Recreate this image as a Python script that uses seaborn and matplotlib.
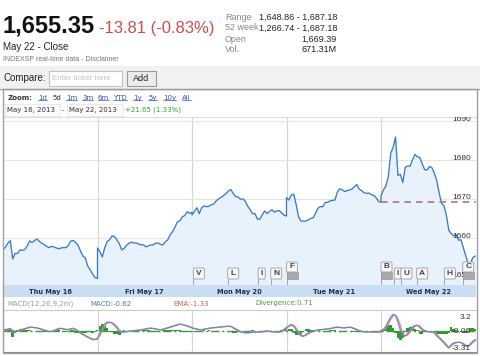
import numpy as np
import pandas as pd
import matplotlib
matplotlib.use("Agg")
import matplotlib.pyplot as plt
import seaborn as sns
from matplotlib.patches import Rectangle, FancyBboxPatch
from matplotlib.lines import Line2D
import matplotlib.transforms as mtransforms

# ---------------- data ----------------
day_labels = ["Thu May 16", "Fri May 17", "Mon May 20", "Tue May 21", "Wed May 22"]
minutes = list(range(0, 391, 10))          # one reading every 10 minutes per session

thu = [1656.9, 1657.6, 1658.6, 1659.3, 1654.6, 1656.0, 1656.0, 1656.9, 1656.8, 1657.0,
       1657.9, 1659.2, 1658.8, 1659.3, 1659.7, 1659.1, 1658.6, 1658.3, 1657.8, 1657.5,
       1657.8, 1657.7, 1657.4, 1657.2, 1657.4, 1657.5, 1657.5, 1658.1, 1659.2, 1659.3,
       1658.8, 1658.1, 1656.6, 1655.3, 1654.8, 1652.7, 1651.8, 1650.7, 1649.8, 1649.6]
fri = [1657.4, 1656.4, 1655.1, 1657.5, 1659.1, 1659.5, 1660.5, 1660.3, 1659.5, 1658.5,
       1656.9, 1657.3, 1658.1, 1658.6, 1658.9, 1658.7, 1658.7, 1658.4, 1658.2, 1658.2,
       1657.7, 1657.9, 1658.2, 1658.2, 1658.6, 1658.7, 1658.3, 1658.2, 1659.0, 1659.5,
       1660.8, 1661.6, 1662.8, 1664.1, 1664.4, 1665.4, 1665.7, 1666.7, 1666.3, 1666.5]
mon = [1665.9, 1666.8, 1667.7, 1666.2, 1667.7, 1668.2, 1668.0, 1668.1, 1668.5, 1668.7,
       1669.5, 1670.0, 1670.4, 1670.8, 1671.3, 1672.0, 1672.4, 1671.4, 1670.6, 1670.5,
       1669.9, 1670.0, 1669.4, 1668.1, 1667.2, 1666.2, 1666.2, 1664.8, 1664.8, 1665.9,
       1666.9, 1666.2, 1666.8, 1667.2, 1666.6, 1666.9, 1667.0, 1666.4, 1665.8, 1665.6]
tue = [1670.3, 1669.7, 1671.0, 1671.2, 1668.5, 1665.3, 1664.3, 1664.3, 1664.3, 1664.6,
       1665.0, 1665.1, 1666.3, 1667.6, 1668.0, 1668.0, 1669.1, 1669.1, 1669.5, 1669.6,
       1669.7, 1671.8, 1672.6, 1672.3, 1671.9, 1672.1, 1672.3, 1672.5, 1673.1, 1673.7,
       1672.5, 1672.1, 1671.6, 1671.4, 1671.5, 1671.1, 1670.9, 1670.3, 1669.3, 1669.16]
wed = [1670.8, 1672.3, 1673.3, 1675.6, 1681.7, 1683.2, 1685.9, 1676.0, 1676.3, 1674.2,
       1678.1, 1678.4, 1678.4, 1680.0, 1681.4, 1680.8, 1680.6, 1679.0, 1677.5, 1677.4,
       1678.3, 1678.0, 1676.6, 1674.7, 1671.5, 1668.9, 1668.2, 1665.7, 1661.9, 1661.1,
       1660.5, 1660.9, 1659.4, 1659.5, 1657.4, 1655.2, 1653.3, 1653.6, 1655.0, 1655.35]

macd_thu = [0, 0.2, 0.4, 0.5, -0.3, -0.2, 0.0, 0.2, 0.33, 0.46, 0.6, 0.77, 0.7, 0.65, 0.58, 0.42,
            0.27, 0.13, 0, -0.13, -0.08, 0.12, 0.29, 0.48, 0.52, 0.38, 0.25, 0.29, 0.44, 0.54,
            0.21, -0.12, -0.44, -0.71, -0.98, -1.23, -1.46, -1.69, -1.63, -1.44]
macd_fri = [-1.35, -0.44, 0.77, 1.38, 1.73, 1.63, 1.54, 1.06, 0.58, -0.15, -0.27, -0.15, -0.1,
            -0.02, 0.02, 0.08, 0.12, 0.17, 0.23, 0.33, 0.42, 0.52, 0.54, 0.46, 0.37, 0.27, 0.21,
            0.37, 0.5, 0.63, 0.79, 0.92, 1.06, 1.21, 1.35, 1.21, 1.08, 0.94, 0.77, 0.58]
macd_mon = [0.58, 0.46, 0.35, 0.23, 0.25, 0.35, 0.44, 0.54, 0.6, 0.65, 0.69, 0.75, 0.79, 0.85,
            0.88, 0.92, 0.87, 0.58, 0.31, 0.04, -0.19, -0.27, -0.35, -0.37, -0.29, -0.2, -0.19,
            -0.19, -0.19, -0.12, -0.06, 0, -0.08, -0.15, -0.19, -0.19, -0.19, 0, 0.33, 0.69]
macd_tue = [0.69, 0.98, 1.27, 0.88, 0.19, -0.5, -0.96, -1.02, -0.67, -0.38, -0.15, -0.02, 0.12,
            0.21, 0.25, 0.31, 0.35, 0.4, 0.5, 0.6, 0.69, 0.75, 0.67, 0.6, 0.62, 0.69, 0.75, 0.62,
            0.4, 0.21, 0.02, -0.1, -0.19, -0.19, -0.19, -0.19, -0.19, -0.19, -0.19, -0.15]
macd_wed = [-0.04, 0.33, 0.88, 1.85, 2.7, 3.2, 2.9, 1.73, 0.15, -0.96, -0.96, -0.5, 0.19, 0.81,
            1.04, 1.13, 0.69, 0.21, 0.02, -0.13, -0.19, -0.19, -0.4, -0.94, -1.38, -1.85, -2.31,
            -2.9, -3.3, -2.58, -2.29, -2.21, -2.17, -2.25, -2.58, -2.9, -2.92, -2.4, -1.92, -1.63]

ema_thu = [0, 0.05, 0.2, 0.35, 0.2, -0.05, -0.1, 0.05, 0.2, 0.35, 0.5, 0.65, 0.72, 0.68, 0.62,
           0.5, 0.35, 0.2, 0.07, -0.05, -0.1, 0.0, 0.18, 0.36, 0.48, 0.45, 0.32, 0.28, 0.36, 0.48,
           0.38, 0.05, -0.28, -0.56, -0.84, -1.1, -1.33, -1.55, -1.64, -1.52]
ema_fri = [-1.4, -0.9, 0.1, 0.95, 1.5, 1.68, 1.6, 1.3, 0.85, 0.25, -0.15, -0.2, -0.13, -0.06,
           0.0, 0.05, 0.1, 0.14, 0.2, 0.28, 0.37, 0.47, 0.53, 0.5, 0.42, 0.32, 0.24, 0.3, 0.43,
           0.57, 0.71, 0.85, 0.99, 1.13, 1.28, 1.28, 1.15, 1.01, 0.86, 0.68]
ema_mon = [0.62, 0.52, 0.4, 0.29, 0.24, 0.3, 0.4, 0.49, 0.57, 0.62, 0.67, 0.72, 0.77, 0.82,
           0.86, 0.9, 0.9, 0.72, 0.45, 0.17, -0.08, -0.23, -0.31, -0.36, -0.33, -0.25, -0.2,
           -0.19, -0.19, -0.15, -0.09, -0.03, -0.04, -0.11, -0.17, -0.19, -0.19, -0.09, 0.17, 0.5]
ema_tue = [0.6, 0.84, 1.12, 1.1, 0.55, -0.12, -0.7, -0.98, -0.85, -0.55, -0.28, -0.09, 0.05,
           0.16, 0.23, 0.28, 0.33, 0.38, 0.45, 0.55, 0.64, 0.72, 0.71, 0.64, 0.61, 0.65, 0.72,
           0.69, 0.52, 0.31, 0.12, -0.04, -0.14, -0.19, -0.19, -0.19, -0.19, -0.19, -0.19, -0.17]
ema_wed = [-0.1, 0.12, 0.55, 1.3, 2.2, 2.9, 3.1, 2.4, 1.0, -0.35, -0.95, -0.78, -0.2, 0.45,
           0.9, 1.08, 0.95, 0.48, 0.12, -0.05, -0.16, -0.19, -0.3, -0.65, -1.15, -1.6, -2.08,
           -2.6, -3.1, -2.95, -2.45, -2.26, -2.2, -2.2, -2.4, -2.72, -2.9, -2.7, -2.18, -1.8]

price_ticks = [1650, 1660, 1670, 1680, 1690]
macd_labels = [3.2, -0.06, -3.31]
prev_close = 1669.16

flag_letters = ["V", "L", "I", "N", "F", "B", "I", "U", "A", "H", "C"]
flag_times = [2.014, 2.378, 2.70, 2.833, 3.0, 4.0, 4.14, 4.21, 4.378, 4.67, 4.865]
flag_stacked = [False, False, False, False, True, True, False, False, False, False, True]

zoom_labels = ["1d", "5d", "1m", "3m", "6m", "YTD", "1y", "5y", "10y", "All"]

prices = [thu, fri, mon, tue, wed]
macds = [macd_thu, macd_fri, macd_mon, macd_tue, macd_wed]
emas = [ema_thu, ema_fri, ema_mon, ema_tue, ema_wed]
rows = []
for d in range(5):
    for k, m in enumerate(minutes):
        rows.append(dict(day=d, t=d + m / 390.0, price=prices[d][k], macd=macds[d][k], ema=emas[d][k]))
df = pd.DataFrame(rows)
df["div"] = df["macd"] - df["ema"]

# ---------------- figure ----------------
sns.set_style("white")
plt.rcParams["font.family"] = ["Liberation Sans", "DejaVu Sans"]

W, H = 480, 356
fig = plt.figure(figsize=(W / 100, H / 100), dpi=100)
fig.patch.set_facecolor("white")

def axes_px(x0, y0, x1, y1):
    return [x0 / W, 1 - y1 / H, (x1 - x0) / W, (y1 - y0) / H]

def ftext(x, y, s, **kw):
    return fig.text(x / W, 1 - y / H, s, **kw)

def frect(x0, y0, x1, y1, **kw):
    r = Rectangle((x0 / W, 1 - y1 / H), (x1 - x0) / W, (y1 - y0) / H,
                  transform=fig.transFigure, **kw)
    fig.add_artist(r)
    return r

def fline(x0, y0, x1, y1, **kw):
    fig.add_artist(Line2D([x0 / W, x1 / W], [1 - y0 / H, 1 - y1 / H],
                          transform=fig.transFigure, **kw))

# header
ftext(3, 33, "1,655.35", fontsize=17, fontweight="bold", color="#111111", va="baseline")
ftext(99, 33, "-13.81 (-0.83%)", fontsize=12, color="#cc4f4f", va="baseline")
ftext(3, 50, "May 22 - Close", fontsize=7, color="#222222", va="baseline")
ftext(3, 61, "INDEXSP real-time data - Disclaimer", fontsize=5, color="#777777", va="baseline")
stat_names = ["Range", "52 week", "Open", "Vol."]
stat_vals = ["1,648.86 - 1,687.18", "1,266.74 - 1,687.18", "1,669.39", "671.31M"]
for i, (n, v) in enumerate(zip(stat_names, stat_vals)):
    yy = 17 + 11 * i
    ftext(225, yy, n, fontsize=6.5, color="#888888", va="center")
    ftext(337, yy, v, fontsize=6.5, color="#222222", va="center", ha="right")

# compare bar
frect(0, 66, 480, 88, facecolor="#f1f1f1", edgecolor="none")
ftext(3, 78, "Compare:", fontsize=7, color="#222222", va="center")
frect(49, 71, 122, 86, facecolor="white", edgecolor="#c4c4c4", lw=0.8)
ftext(52, 78.5, "Enter ticker here", fontsize=5.8, color="#c0c0c0", va="center")
frect(127, 71, 156, 86, facecolor="#ececec", edgecolor="#999999", lw=0.8)
ftext(141.5, 78.5, "Add", fontsize=6.5, color="#222222", va="center", ha="center")
fline(0, 88.5, 480, 88.5, color="#9a9a9a", lw=1)

# zoom row
ftext(8, 98, "Zoom:", fontsize=5, fontweight="bold", color="#333333", va="center", family="DejaVu Sans")
zoom_x = [38, 52, 66, 82, 98, 113, 133, 148, 163, 182]
renderer = fig.canvas.get_renderer()
for x, s in zip(zoom_x, zoom_labels):
    col = "#222222" if s == "5d" else "#2f55b5"
    t = ftext(x, 98, s, fontsize=5, color=col, va="center", family="DejaVu Sans")
    if s != "5d":
        bb = t.get_window_extent(renderer)
        fig.add_artist(Line2D([bb.x0 / W, bb.x1 / W], [(bb.y0 + 0.6) / H] * 2,
                              transform=fig.transFigure, color=col, lw=0.5))
frect(5, 104, 60, 116, facecolor="#fbfbfb", edgecolor="#e6e6e6", lw=0.6)
frect(67, 104, 123, 116, facecolor="#fbfbfb", edgecolor="#e6e6e6", lw=0.6)
ftext(7, 110, "May 16, 2013", fontsize=5, color="#333333", va="center", family="DejaVu Sans")
ftext(62, 110, "-", fontsize=5, color="#333333", va="center", family="DejaVu Sans")
ftext(69, 110, "May 22, 2013", fontsize=5, color="#333333", va="center", family="DejaVu Sans")
ftext(125, 110, "+21.65 (1.33%)", fontsize=5, color="#3d9b3d", va="center", family="DejaVu Sans")

# ---------------- main price chart ----------------
xmax = 473 / 94.5
ax = fig.add_axes(axes_px(3, 117, 476, 285))
ylo, yhi = 1647.9, 1691.0
ax.set_xlim(0, xmax)
ax.set_ylim(ylo, yhi)
ax.set_yticks(price_ticks)
ax.set_xticks([1, 2, 3, 4])
ax.grid(axis="y", color="#e4e4e4", lw=0.8)
ax.grid(axis="x", color="#d4d4d4", lw=0.8)
ax.tick_params(length=0, labelleft=False, labelbottom=False)
for s in ax.spines.values():
    s.set_visible(False)
ax.spines["top"].set_visible(True)
ax.spines["top"].set_color("#dddddd")
ax.fill_between(df["t"], df["price"], ylo, color="#e8f2fc", lw=0, zorder=1)
sns.lineplot(data=df, x="t", y="price", ax=ax, color="#3b79c9", lw=0.95,
             sort=False, estimator=None, zorder=3)
ax.set_xlabel("")
ax.set_ylabel("")
wed_start = df.loc[df["day"] == 4, "t"].min()
ax.hlines(prev_close, wed_start, xmax, colors="#b4727e", linestyles=(0, (4, 3)), lw=1.2, zorder=4)

ylab_tr = mtransforms.blended_transform_factory(ax.transAxes, ax.transData)
for v in price_ticks:
    ax.text(0.989, v, f"{v}", transform=ylab_tr, ha="right", va="baseline",
            fontsize=6, color="#333333", clip_on=True, zorder=6)

# event flags
flag_tr = mtransforms.blended_transform_factory(ax.transData, ax.transAxes)
axh = 168.0
for L, tt, st in zip(flag_letters, flag_times, flag_stacked):
    wpx = 7 if L == "I" else 11
    w = wpx / 94.5
    if st:
        gb0, gb1 = 6 / axh, 13 / axh
        ax.add_patch(Rectangle((tt, gb0), w, gb1 - gb0, transform=flag_tr, facecolor="#a9a9a9",
                               edgecolor="#999999", lw=0.5, zorder=7))
        b0, b1 = 13 / axh, 23 / axh
    else:
        b0, b1 = 6 / axh, 17 / axh
    ax.add_line(Line2D([tt, tt], [0, b0], transform=flag_tr, color="#9a9a9a", lw=0.6, zorder=7))
    ax.add_patch(FancyBboxPatch((tt, b0), w, b1 - b0, boxstyle="round,pad=0,rounding_size=0.01",
                                transform=flag_tr, facecolor="#f7f7f7", edgecolor="#9a9a9a",
                                lw=0.6, zorder=7, mutation_aspect=1))
    ax.text(tt + w / 2, (b0 + b1) / 2, L, transform=flag_tr, ha="center", va="center",
            fontsize=6, fontweight="bold", color="#444444", zorder=8)

# date band
axb = fig.add_axes(axes_px(3, 285, 476, 297))
axb.set_facecolor("#c9ddf3")
axb.set_xlim(0, xmax)
axb.set_ylim(0, 1)
axb.set_xticks([])
axb.set_yticks([])
for s in axb.spines.values():
    s.set_visible(False)
for d, lab in enumerate(day_labels):
    axb.text(d + 0.5, 0.45, lab, ha="center", va="center", fontsize=4.8, fontweight="bold",
             color="#1d2f52", family="DejaVu Sans")

# MACD header
ftext(7, 303.5, "MACD(12,26,9,2m)", fontsize=5, color="#9a9a9a", va="center", family="DejaVu Sans")
ftext(90, 303.5, "MACD:-0.62", fontsize=5, color="#4a78b8", va="center", family="DejaVu Sans")
ftext(173, 303.5, "EMA:-1.33", fontsize=5, color="#c8604c", va="center", family="DejaVu Sans")
ftext(255, 303.5, "Divergence:0.71", fontsize=5, color="#44a044", va="center", family="DejaVu Sans")

# ---------------- MACD panel ----------------
axm = fig.add_axes(axes_px(3, 310, 476, 352))
axm.set_xlim(0, xmax)
axm.set_ylim(-4.04, 4.04)
axm.set_xticks([1, 2, 3, 4])
axm.set_yticks([])
axm.grid(axis="x", color="#d4d4d4", lw=0.8)
axm.tick_params(length=0, labelleft=False, labelbottom=False)
for s in axm.spines.values():
    s.set_color("#cccccc")
    s.set_linewidth(0.8)
axm.spines["bottom"].set_color("#888888")
axm.spines["right"].set_visible(False)

axd = axm.twinx()
axd.set_ylim(-1.9, 1.9)
axd.set_yticks([])
for s in axd.spines.values():
    s.set_visible(False)
axd.bar(df["t"], df["div"], width=1 / 39, color="#2f9a2f", lw=0, zorder=2)
axd.set_zorder(axm.get_zorder() - 1)
axm.patch.set_visible(False)

axm.axhline(0, color="#3a9a3a", lw=1.0, ls=(0, (6, 2, 1.5, 2)), zorder=2)
sns.lineplot(data=df, x="t", y="ema", ax=axm, color="#d38a8a", lw=0.9,
             sort=False, estimator=None, zorder=3)
sns.lineplot(data=df, x="t", y="macd", ax=axm, color="#7386bd", lw=0.9,
             sort=False, estimator=None, zorder=4)
axm.set_xlabel("")
axm.set_ylabel("")
mlab_tr = mtransforms.blended_transform_factory(axm.transAxes, axm.transData)
for v, va in zip(macd_labels, ["top", "center", "center"]):
    axm.text(0.989, v, f"{v}", transform=mlab_tr, ha="right", va=va, fontsize=6,
             color="#333333", clip_on=True, zorder=6)

# container frame
frect(2.5, 89, 477, 352.5, facecolor="none", edgecolor="#a0a0a0", lw=1)

fig.savefig("out.png", dpi=100, facecolor="white")
